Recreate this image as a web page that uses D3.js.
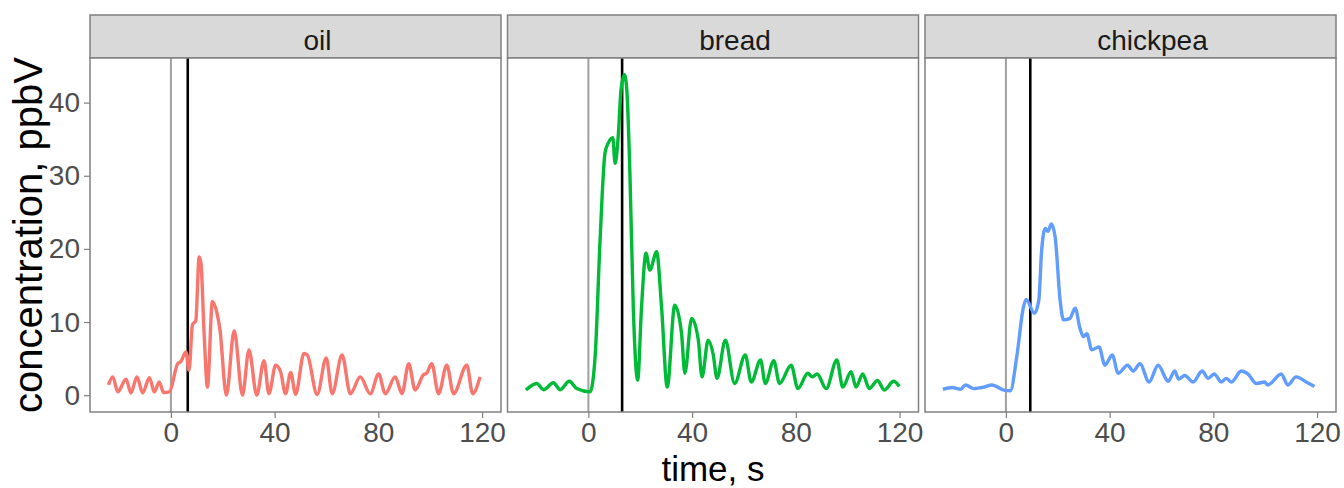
<!DOCTYPE html>
<html>
<head>
<meta charset="utf-8">
<script src="https://cdn.jsdelivr.net/npm/d3@7"></script>
<style>
  body { margin: 0; background: #fff; }
  text { font-family: "Liberation Sans", Arial, sans-serif; }
</style>
</head>
<body>
<script>
// facets, colours and vertical marker times
let foods = ['oil', 'bread', 'chickpea']
let colors = ['#F8766D', '#00BA38', '#619CFF']
let markers = [6.5, 13, 9.4]

// time, s
let oilTime = [-24.1, -22.4, -20.5, -17.3, -15.4, -13.1, -10.9, -8.3, -6.4, -4.5, -2.8, -0.6, 2.6, 3.8, 5.8, 7, 8.3, 9.6, 10.9, 11.6, 12.8, 14.1, 16, 17.9, 18.9, 21.4, 24.4, 27.6, 30.1, 33.1, 35.9, 37.8, 40.4, 42.3, 44.2, 46.2, 48.1, 51.3, 52.6, 56.4, 59.9, 62.2, 66, 69.2, 73, 76.9, 80.1, 82.7, 86.5, 89.1, 91.7, 94.2, 97.4, 98.6, 100.6, 103.2, 106.4, 109, 114.1, 116.4, 119.2]
// concentration, ppbV
let oilConc = [1.4, 2.5, 0.45, 2.2, 0.3, 2.5, 0.3, 2.4, 0.45, 1.8, 0.35, 0.45, 4.3, 4.6, 5.9, 3.4, 9.6, 10.2, 18.9, 18, 8.5, 1.1, 12.8, 11, 9, 0, 8.8, 0, 6.2, 0, 4.7, 0.2, 4.1, 3.2, 0.2, 3.1, 0.1, 5.7, 5.5, 0.1, 5.1, 0.2, 5.5, 0.2, 2.5, 0.2, 2.9, 0.2, 2.5, 0.2, 4.3, 0.7, 2.8, 3.0, 4.3, 0.2, 4.1, 0.2, 4.1, 0.2, 2.5]

let breadTime = [-24.1, -19.9, -17.3, -13.5, -10.9, -7.4, -4.5, 0.65, 2.6, 4.5, 6.4, 7.7, 9.4, 10.3, 11.5, 12.6, 13.9, 14.8, 16, 17.3, 19, 20.5, 22.2, 23.7, 26.3, 28.2, 30.4, 33.3, 35.9, 37.2, 39.8, 42.4, 43.8, 46.2, 48.1, 49.6, 52.8, 56.4, 60.5, 62.8, 66.4, 68.2, 71.5, 73.7, 78.2, 80.8, 84.6, 86.3, 88.2, 91.7, 95.8, 98.1, 101.3, 103.2, 105.8, 108.3, 111.5, 114.1, 117.7, 119.9]
let breadConc = [0.7, 1.6, 0.75, 1.7, 0.75, 1.9, 0.9, 0.45, 5.3, 21.2, 33.1, 34.5, 35.2, 31.7, 35.4, 41.8, 43.8, 41.8, 30.4, 12.1, 2.05, 12.1, 19.4, 17.1, 19.6, 12.1, 1.1, 12.3, 8.5, 3.0, 10.5, 7.5, 2.5, 7.5, 5.6, 2.3, 7.5, 1.6, 5.5, 1.8, 4.8, 1.6, 4.7, 1.6, 4.1, 0.9, 3.0, 2.5, 2.9, 0.9, 4.8, 1.1, 3.2, 1.1, 2.9, 0.9, 2.0, 0.7, 1.9, 1.2]

let chickpeaTime = [-24.3, -20.7, -17.5, -15.6, -12.4, -8.5, -5.4, -0.9, 1.7, 4.2, 6.8, 7.8, 11, 12.7, 13.8, 15.2, 16.2, 17.5, 19, 20.9, 22.2, 24.7, 26.7, 28.6, 29.9, 31.2, 33.1, 35.9, 38.2, 41, 43.3, 46.9, 49.1, 51.7, 55.2, 58.7, 62.6, 65.1, 66.6, 69, 72.2, 75.7, 78, 80.3, 83.1, 85, 86.9, 90.8, 93.3, 96.6, 99.8, 101, 106.2, 108.7, 111.9, 115.8, 119]
let chickpeaConc = [0.8, 1.05, 0.8, 1.4, 0.9, 1.1, 1.4, 0.7, 0.6, 5.3, 12.1, 13.1, 11.2, 13, 19.9, 22.8, 22.4, 23.4, 21.6, 13, 10.3, 10.5, 11.9, 9.1, 8.0, 8.4, 6.2, 6.6, 4.1, 5.5, 3.0, 4.1, 3.3, 4.3, 1.8, 4.1, 1.9, 3.3, 2.2, 2.7, 1.8, 3.3, 2.3, 2.9, 1.8, 2.3, 1.8, 3.3, 2.9, 1.6, 1.8, 1.4, 2.9, 1.4, 2.5, 1.8, 1.2]

let xTicks = [0, 40, 80, 120]
let yTicks = [0, 10, 20, 30, 40]

let series = [
  oilTime.map((t, i) => ({ t: t, c: oilConc[i] })),
  breadTime.map((t, i) => ({ t: t, c: breadConc[i] })),
  chickpeaTime.map((t, i) => ({ t: t, c: chickpeaConc[i] }))
]

let width = 1344, height = 488
let panelTop = 58, panelBottom = 412, stripTop = 15
let panelLeft = 90, panelW = 411, panelGap = 6.5

let svg = d3.select('body')
  .append('svg')
  .attr('width', width)
  .attr('height', height)

let y = d3.scaleLinear()
  .domain([-2.3, 46.1])
  .range([panelBottom, panelTop])

foods.forEach((food, i) => {
  let x0 = panelLeft + i * (panelW + panelGap)
  let x = d3.scaleLinear()
    .domain([-31.2, 127.3])
    .range([x0, x0 + panelW])

  let g = svg.append('g')

  // strip
  g.append('rect')
    .attr('x', x0)
    .attr('y', stripTop)
    .attr('width', panelW)
    .attr('height', panelTop - stripTop)
    .attr('fill', '#d9d9d9')
    .attr('stroke', '#808080')
    .attr('stroke-width', 1.5)

  g.append('text')
    .attr('x', x0 + panelW / 2 + 22)
    .attr('y', 50)
    .attr('text-anchor', 'middle')
    .attr('font-size', '28px')
    .attr('fill', '#1a1a1a')
    .text(food)

  // panel background
  g.append('rect')
    .attr('x', x0)
    .attr('y', panelTop)
    .attr('width', panelW)
    .attr('height', panelBottom - panelTop)
    .attr('fill', '#fff')

  // reference lines
  g.append('line')
    .attr('x1', x(0)).attr('x2', x(0))
    .attr('y1', panelTop).attr('y2', panelBottom)
    .attr('stroke', '#a0a0a0')
    .attr('stroke-width', 2)

  g.append('line')
    .attr('x1', x(markers[i])).attr('x2', x(markers[i]))
    .attr('y1', panelTop).attr('y2', panelBottom)
    .attr('stroke', '#000')
    .attr('stroke-width', 2.6)

  let line = d3.line()
    .x(d => x(d.t))
    .y(d => y(d.c))
    .curve(d3.curveMonotoneX)

  g.append('path')
    .datum(series[i])
    .attr('d', line)
    .attr('fill', 'none')
    .attr('stroke', colors[i])
    .attr('stroke-width', 3.4)
    .attr('stroke-linejoin', 'round')

  g.append('rect')
    .attr('x', x0)
    .attr('y', panelTop)
    .attr('width', panelW)
    .attr('height', panelBottom - panelTop)
    .attr('fill', 'none')
    .attr('stroke', '#808080')
    .attr('stroke-width', 1.5)

  // x axis
  let xAxis = g.append('g')
    .attr('transform', `translate(0, ${panelBottom})`)
    .call(d3.axisBottom(x).tickValues(xTicks).tickSize(6).tickPadding(4))
  xAxis.select('.domain').remove()
  xAxis.selectAll('.tick line').attr('stroke', '#808080').attr('stroke-width', 1.2)
  xAxis.selectAll('.tick text')
    .attr('font-family', '"Liberation Sans", Arial, sans-serif')
    .attr('font-size', '28px')
    .attr('fill', '#4d4d4d')

  if (i === 0) {
    let yAxis = g.append('g')
      .attr('transform', `translate(${x0}, 0)`)
      .call(d3.axisLeft(y).tickValues(yTicks).tickSize(6).tickPadding(4))
    yAxis.select('.domain').remove()
    yAxis.selectAll('.tick line').attr('stroke', '#808080').attr('stroke-width', 1.2)
    yAxis.selectAll('.tick text')
      .attr('font-family', '"Liberation Sans", Arial, sans-serif')
      .attr('font-size', '28px')
      .attr('fill', '#4d4d4d')
  }
})

svg.append('text')
  .attr('x', (panelLeft + panelLeft + 3 * panelW + 2 * panelGap) / 2)
  .attr('y', 481)
  .attr('text-anchor', 'middle')
  .attr('font-size', '35px')
  .attr('fill', '#000')
  .text('time, s')

svg.append('text')
  .attr('transform', `translate(42, ${(panelTop + panelBottom) / 2}) rotate(-90)`)
  .attr('text-anchor', 'middle')
  .attr('font-size', '40px')
  .attr('fill', '#000')
  .text('concentration, ppbV')
</script>
</body>
</html>
